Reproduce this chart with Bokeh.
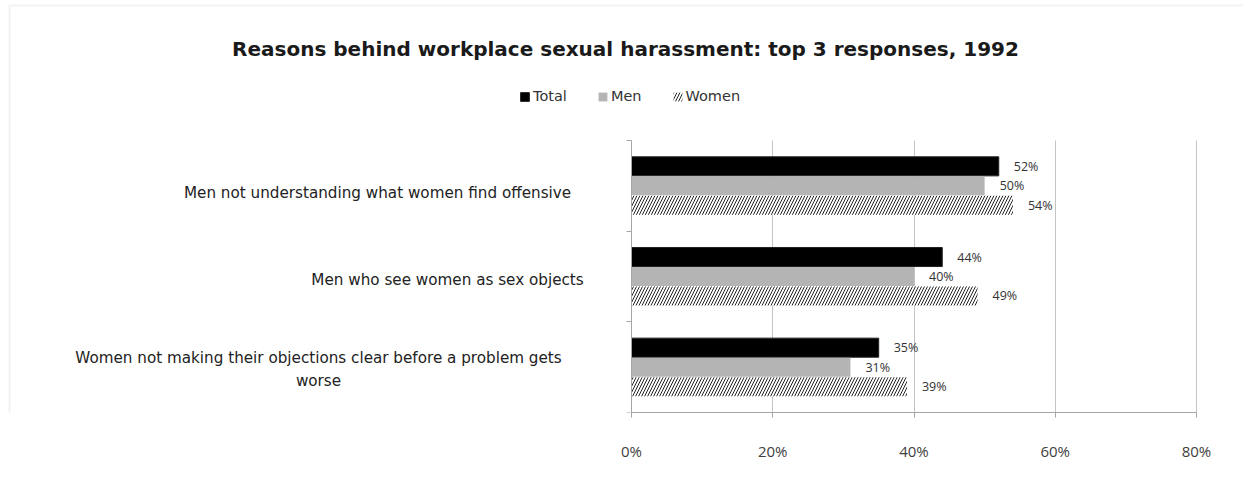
from bokeh.plotting import figure
from bokeh.models import (ColumnDataSource, FixedTicker, PrintfTickFormatter, Label,
                          Legend, LegendItem, BoxAnnotation, LabelSet)
from bokeh.core.properties import value
from bokeh.transform import dodge
from bokeh.embed import file_html
from bokeh.resources import INLINE

# ---- data ----
categories = [
    "Men not understanding what women find offensive",
    "Men who see women as sex objects",
    "Women not making their objections clear before a problem gets\nworse",
]
total = [52, 44, 35]
men = [50, 40, 31]
women = [54, 49, 39]
x_ticks = [0, 20, 40, 60, 80]
title_text = "Reasons behind workplace sexual harassment: top 3 responses, 1992"

n = len(categories)
ypos = [n - i - 0.5 for i in range(n)]

src = ColumnDataSource(dict(
    y=ypos,
    total=total, men=men, women=women,
    total_lbl=[f"{v}%" for v in total],
    men_lbl=[f"{v}%" for v in men],
    women_lbl=[f"{v}%" for v in women],
))

W, H = 1243, 483
X0, X80 = 631.0, 1196.0      # screen px of 0% and 80%
YT, YB = 140.0, 412.0        # screen px of plot top / bottom
pxu = (X80 - X0) / 80.0
pyu = (YB - YT) / n

p = figure(width=W, height=H,
           x_range=(-X0 / pxu, (W - X0) / pxu),
           y_range=(0, n + YT / pyu),
           output_backend="svg", toolbar_location=None,
           min_border_left=0, min_border_right=0,
           min_border_top=0, min_border_bottom=int(H - YB))
p.outline_line_color = None
p.background_fill_color = "white"
p.border_fill_color = "white"

BH = 0.21
OFF = 0.215
r_total = p.hbar(y=dodge("y", OFF), right="total", left=0, height=BH, source=src,
                 fill_color="black", line_color="#222222")
r_men = p.hbar(y=dodge("y", 0), right="men", left=0, height=BH, source=src,
               fill_color="#b4b4b4", line_color=None)
r_women = p.hbar(y=dodge("y", -OFF), right="women", left=0, height=BH, source=src,
                 fill_color="white", line_color=None, hatch_pattern="/",
                 hatch_color="#222222", hatch_scale=6, hatch_weight=1)

lbl_style = dict(text_font=value("Open Sans"), text_font_size="12.5px",
                 text_color="#333333", text_baseline="middle", x_offset=15)
for col, off in (("total", OFF), ("men", 0), ("women", -OFF)):
    p.add_layout(LabelSet(x=col, y=dodge("y", off), text=col + "_lbl", source=src, **lbl_style))

# x axis
xa = p.xaxis[0]
xa.ticker = FixedTicker(ticks=x_ticks)
xa.formatter = PrintfTickFormatter(format="%d%%")
xa.bounds = (0, 80)
xa.axis_line_color = "#a6a6a6"
xa.major_tick_line_color = "#a6a6a6"
xa.major_tick_out = 5
xa.major_tick_in = 0
xa.minor_tick_line_color = None
xa.major_label_standoff = 23
xa.major_label_text_font = "Open Sans"
xa.major_label_text_font_size = "15px"
xa.major_label_text_color = "#404040"

# vertical grid lines only over the plot area
p.xgrid.ticker = FixedTicker(ticks=x_ticks)
p.xgrid.grid_line_color = "#c4c4c4"
p.xgrid.cross_bounds = (0, n)
p.ygrid.grid_line_color = None

# y axis placed at x = 0
ya = p.yaxis[0]
ya.fixed_location = 0
ya.bounds = (0, n)
ya.ticker = FixedTicker(ticks=list(range(n + 1)))
ya.axis_line_color = "#a6a6a6"
ya.major_tick_line_color = "#a6a6a6"
ya.major_tick_out = 5
ya.major_tick_in = 0
ya.minor_tick_line_color = None
ya.major_label_text_color = None

# category labels (centred text, left of the plot area)
label_x = [-35.96, -26.05, -44.32]
label_dy = [-0.074, -0.044, -0.026]
for cat, yy, lx, dy in zip(categories, ypos, label_x, label_dy):
    p.add_layout(Label(x=lx, y=yy + dy, text=cat, text_align="center",
                       text_baseline="middle", text_font="DejaVu Sans",
                       text_font_size="15.2px", text_color="#222222",
                       text_line_height=1.25))

# title
p.add_layout(Label(x=625, y=YB - 48, x_units="screen", y_units="screen", text=title_text,
                   text_align="center", text_baseline="middle", text_font="DejaVu Sans",
                   text_font_size="20px", text_font_style="bold", text_color="#1a1a1a"))

# legend
legend = Legend(items=[LegendItem(label="Total", renderers=[r_total]),
                       LegendItem(label="Men", renderers=[r_men]),
                       LegendItem(label="Women", renderers=[r_women])],
                orientation="horizontal", location=(519, YB - 104),
                glyph_width=11, glyph_height=11, label_standoff=3, spacing=30,
                padding=0, margin=0, border_line_color=None,
                background_fill_alpha=0,
                label_text_font="DejaVu Sans", label_text_font_size="14.5px",
                label_text_color="#333333")
p.add_layout(legend, "center")

# chart-area border (left & top)
p.add_layout(BoxAnnotation(left=9, right=3000, top=YB - 5, bottom=-500,
                           left_units="screen", right_units="screen",
                           top_units="screen", bottom_units="screen",
                           fill_alpha=0, line_color="#d4d4d4", line_width=2))

open("out.html", "w").write(file_html(p, INLINE))
